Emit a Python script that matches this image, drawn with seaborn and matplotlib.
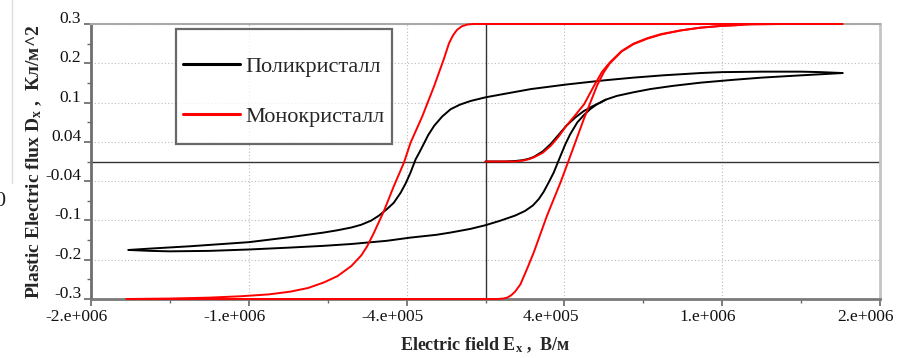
import numpy as np
import pandas as pd
import matplotlib
matplotlib.use("Agg")
import matplotlib.pyplot as plt
import matplotlib.transforms as mtransforms
import seaborn as sns
from matplotlib.lines import Line2D

sns.set_theme(style="white")
plt.rcParams["font.family"] = ["Liberation Serif", "DejaVu Serif"]
plt.rcParams["mathtext.fontset"] = "custom"
plt.rcParams["mathtext.rm"] = "Liberation Serif:bold"
plt.rcParams["mathtext.it"] = "Liberation Serif:bold"
plt.rcParams["mathtext.bf"] = "Liberation Serif:bold"

# Electric field values in units of 1e5 V/m, flux in C/m^2
poly_down_E = [18.1, 17, 16, 14, 12, 10.9, 9, 7.5, 6, 4.1, 2.3, 0.76, 0, -0.76, -1.3,
               -1.77, -2.2, -2.6, -2.9, -3.1, -3.35, -3.54, -3.8, -4.05, -4.3, -4.65,
               -5.0, -5.4, -5.8, -6.3, -6.8, -7.5, -8.2, -9.9, -12, -15, -17, -18.1]
poly_down_D = [0.193, 0.195, 0.196, 0.196, 0.195, 0.193, 0.188, 0.183, 0.177, 0.168,
               0.158, 0.146, 0.140, 0.132, 0.124, 0.114, 0.098, 0.078, 0.058, 0.041,
               0.02, 0.005, -0.024, -0.048, -0.068, -0.09, -0.104, -0.118, -0.129,
               -0.138, -0.144, -0.150, -0.155, -0.165, -0.176, -0.185, -0.19, -0.193]
poly_up_E = [-18.1, -17, -16, -14, -12, -10, -8.2, -6.8, -5, -3.8, -2.5, -1.77, -0.76,
             0, 0.76, 1.5, 2.0, 2.4, 2.7, 2.95, 3.2, 3.46, 3.8, 4.05, 4.3, 4.65, 4.98,
             5.3, 5.65, 6.1, 6.65, 7.5, 8.35, 9.5, 10.9, 12.5, 14, 16, 18.1]
poly_up_D = [-0.193, -0.195, -0.196, -0.195, -0.192, -0.188, -0.184, -0.180, -0.173,
             -0.166, -0.160, -0.155, -0.147, -0.139, -0.129, -0.118, -0.108, -0.096,
             -0.082, -0.066, -0.046, -0.024, 0.012, 0.038, 0.06, 0.085, 0.101, 0.114,
             0.125, 0.135, 0.143, 0.151, 0.158, 0.165, 0.172, 0.178, 0.183, 0.188,
             0.193]
poly_init_E = [0, 1.0, 1.5, 1.9, 2.2, 2.45, 2.9, 3.3, 3.7, 4.1, 4.55, 4.98, 5.4, 5.8,
               6.1]
poly_init_D = [0, 0, 0.001, 0.003, 0.006, 0.010, 0.022, 0.038, 0.058, 0.078, 0.096,
               0.110, 0.12, 0.128, 0.135]

mono_down_E = [18.1, 10, 0, -0.6, -0.9, -1.2, -1.45, -1.65, -1.85, -2.1, -2.6, -3.2,
               -3.8, -4.13, -4.64, -5.15, -5.65, -6.0, -6.3, -6.8, -7.5, -8.2, -9.0,
               -9.9, -11, -12.4, -14, -16, -18.2]
mono_down_D = [0.3, 0.3, 0.3, 0.3, 0.299, 0.295, 0.287, 0.275, 0.258, 0.225, 0.165,
               0.099, 0.041, -0.002, -0.053, -0.108, -0.155, -0.185, -0.205, -0.228,
               -0.250, -0.264, -0.276, -0.284, -0.290, -0.294, -0.297, -0.299, -0.3]
mono_up_E = [-18.2, -10, 0, 0.6, 0.9, 1.1, 1.3, 1.5, 1.77, 2.1, 2.45, 3.12, 3.8, 4.3,
             4.98, 5.65, 6.0, 6.3, 6.9, 7.5, 8.2, 8.9, 9.9, 10.9, 12, 13.5, 15, 18.1]
mono_up_D = [-0.3, -0.3, -0.3, -0.3, -0.299, -0.297, -0.292, -0.284, -0.268, -0.235,
             -0.198, -0.118, -0.046, 0.012, 0.092, 0.165, 0.195, 0.214, 0.240, 0.256,
             0.268, 0.277, 0.286, 0.292, 0.296, 0.299, 0.3, 0.3]
mono_init_E = [0, 1.0, 1.5, 1.9, 2.2, 2.45, 2.9, 3.3, 3.7, 4.1, 4.55, 5.0, 5.5, 5.9,
               6.3, 6.9, 7.5, 8.2, 8.9, 9.9, 10.9, 12, 13]
mono_init_D = [0, 0, 0.0, 0.002, 0.005, 0.009, 0.019, 0.034, 0.054, 0.078, 0.101,
               0.125, 0.165, 0.195, 0.216, 0.241, 0.257, 0.269, 0.278, 0.286, 0.292,
               0.296, 0.298]

x_tick_labels = ["-2.e+006", "-1.e+006", "-4.e+005", "4.e+005", "1.e+006", "2.e+006"]
y_tick_labels = ["-0.3", "-0.2", "-0.1", "-0.04", "0.04", "0.1", "0.2", "0.3"]

series_names = ["Поликристалл", "Монокристалл"]
series_colors = ["#000000", "#ff0000"]


def branch_frame(E, D, name):
    return pd.DataFrame({"E": np.asarray(E) * 1e5, "D": D, "name": name})


fig = plt.figure(figsize=(8.99, 3.58), dpi=100)
ax = fig.add_axes([91 / 899, 1 - 299 / 358, (880 - 91) / 899, (299 - 24) / 358])

branches = [
    (poly_init_E, poly_init_D, 0),
    (poly_down_E, poly_down_D, 0),
    (poly_up_E, poly_up_D, 0),
    (mono_init_E, mono_init_D, 1),
    (mono_down_E, mono_down_D, 1),
    (mono_up_E, mono_up_D, 1),
]
for E, D, k in branches:
    df = branch_frame(E, D, series_names[k])
    sns.lineplot(data=df, x="E", y="D", sort=False, estimator=None, ax=ax,
                 color=series_colors[k], linewidth=1.4, clip_on=False, zorder=3)
for line in ax.get_lines():
    line.set_solid_joinstyle("round")

ax.set_xlim(-2e6, 2e6)
ax.set_ylim(-0.3, 0.3)

x_ticks = np.linspace(-2e6, 2e6, 6)
y_ticks = np.linspace(-0.3, 0.3, 8)
ax.set_xticks(x_ticks)
ax.set_xticklabels(x_tick_labels)
ax.set_yticks(y_ticks)
ax.set_yticklabels(y_tick_labels)
ax.set_xticks((x_ticks[:-1] + x_ticks[1:]) / 2, minor=True)
ax.set_yticks((y_ticks[:-1] + y_ticks[1:]) / 2, minor=True)

ax.tick_params(axis="both", which="major", direction="out", length=5, width=1.2,
               color="#666666", labelsize=12.5, pad=2, labelcolor="#111111")
ax.tick_params(axis="both", which="minor", direction="out", length=3, width=1.0,
               color="#666666")
ax.tick_params(left=True, bottom=True, which="both")

# tick labels sit a little left of / above their ticks
x_shift = mtransforms.ScaledTranslation(-14 / 100, 0, fig.dpi_scale_trans)
for lab in ax.get_xticklabels():
    lab.set_transform(lab.get_transform() + x_shift)
y_shift = mtransforms.ScaledTranslation(0, 7 / 100, fig.dpi_scale_trans)
for lab in ax.get_yticklabels():
    lab.set_transform(lab.get_transform() + y_shift)

ax.grid(True, which="major", color="#bbbbbb", linestyle=(0, (1, 2)), linewidth=0.8)
ax.axhline(0, color="#333333", linewidth=1.0, zorder=2)
ax.axvline(0, color="#333333", linewidth=1.0, zorder=2)

ax.spines["left"].set_color("#6e6e6e")
ax.spines["left"].set_linewidth(2.0)
ax.spines["bottom"].set_color("#7a7a7a")
ax.spines["bottom"].set_linewidth(2.0)
ax.spines["top"].set_color("#a8a8a8")
ax.spines["top"].set_linewidth(1.5)
ax.spines["right"].set_color("#c4c4c4")
ax.spines["right"].set_linewidth(2.0)

ax.set_xlabel(r"Electric field E$_\mathregular{x}$ ,  В/м", fontsize=13,
              fontweight="bold", va="center")
ax.xaxis.set_label_coords(0.5, -(345 - 299) / 275)
ax.set_ylabel(r"Plastic Electric flux D$_\mathregular{x}$ ,  Кл/м^2", fontsize=14,
              fontweight="bold", va="center")
ax.yaxis.set_label_coords(-(91 - 34) / 789, 0.5)

handles = [Line2D([], [], color=c, linewidth=2.2) for c in series_colors]
leg = ax.legend(handles, series_names, loc="upper left",
                bbox_to_anchor=((176 - 91) / (880 - 91), 1 - (29 - 24) / (299 - 24)),
                frameon=True, fancybox=False, fontsize=16, handlelength=2.57,
                handleheight=3.1, handletextpad=0.23, labelspacing=0.0,
                borderpad=0.32, borderaxespad=0)
leg.get_frame().set_edgecolor("#444444")
leg.get_frame().set_linewidth(1.6)
leg.get_frame().set_facecolor("white")
leg.set_zorder(5)
# keep each legend row centred in its slot, line level with its label
handle_shift = mtransforms.ScaledTranslation(0, -12 / 100, fig.dpi_scale_trans)
for hl in leg.get_lines():
    hl.set_transform(hl.get_transform() + handle_shift)
text_shift = mtransforms.ScaledTranslation(0, -4 / 100, fig.dpi_scale_trans)
for tx in leg.get_texts():
    tx.set_transform(tx.get_transform() + text_shift)

# stray marks at the left margin
fig.add_artist(Line2D([12 / 899, 12 / 899], [1.0, 1 - 183 / 358],
                      color="#dddddd", linewidth=1.0))
fig.text(-0.007, 1 - 202 / 358, "0", fontsize=16, va="center", ha="left",
         color="#222222")

fig.savefig("out.png", dpi=100)
